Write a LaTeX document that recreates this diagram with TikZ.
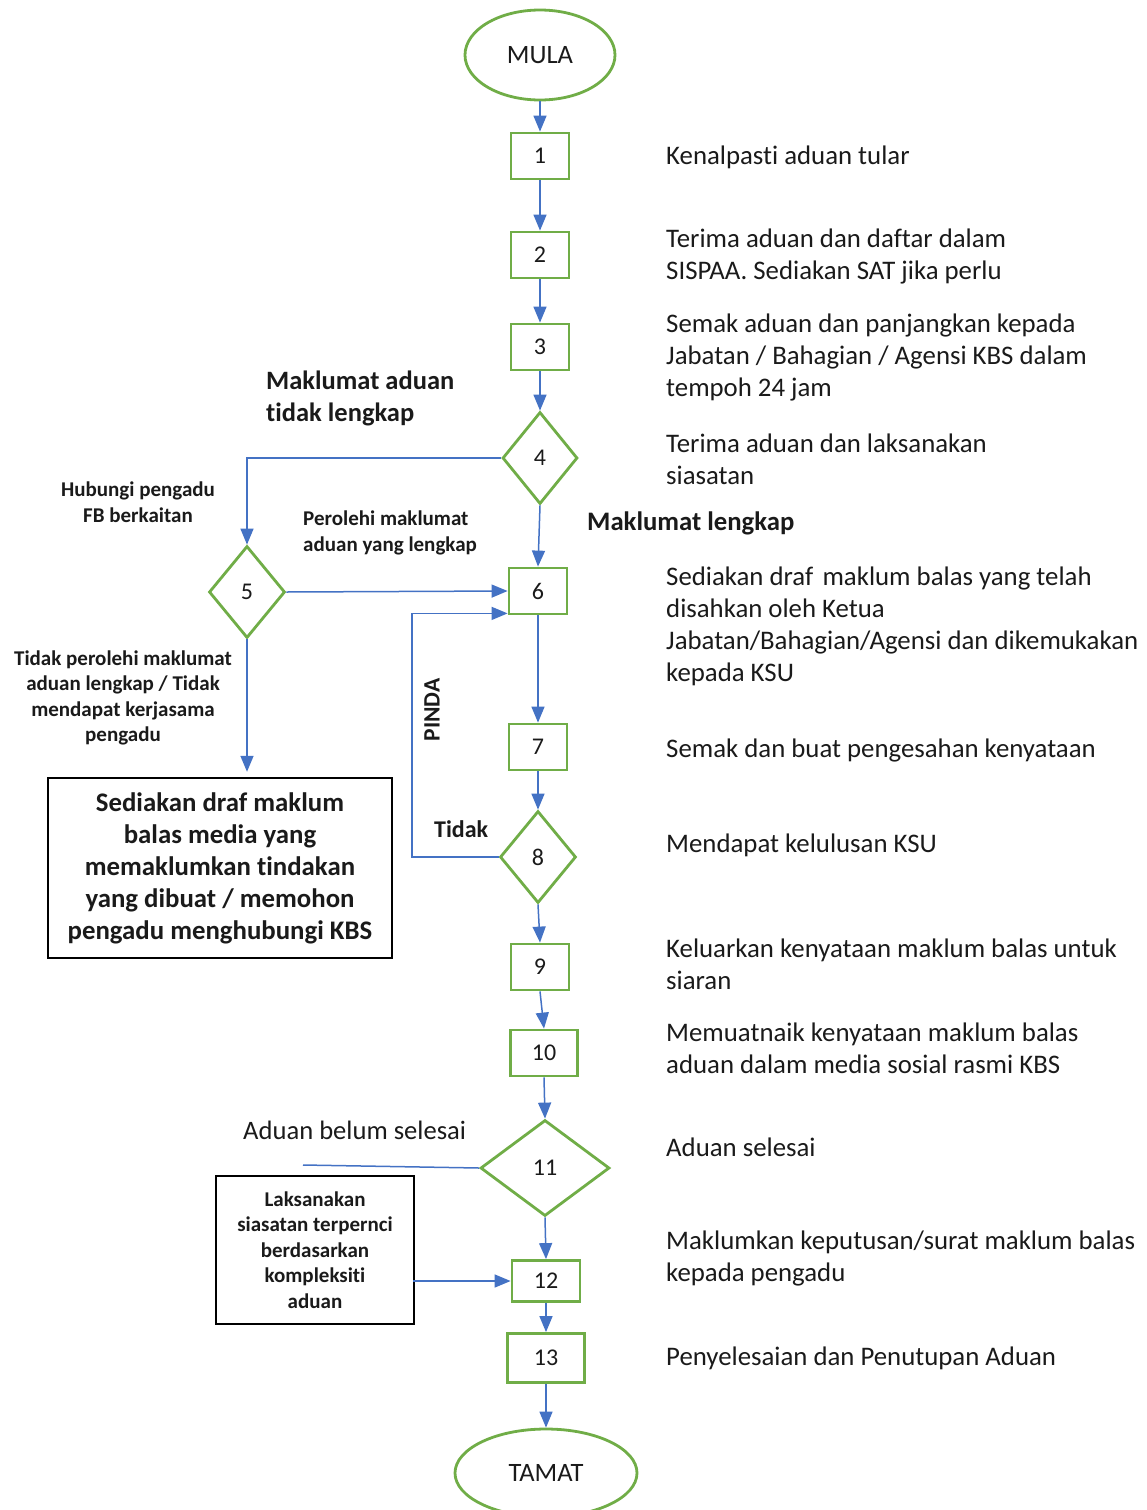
\documentclass[tikz,border=0pt]{standalone}
\usepackage{fontspec}
\setmainfont{Carlito}[Ligatures=NoCommon]
\usetikzlibrary{shapes.geometric,arrows.meta}
\definecolor{boxgreen}{HTML}{70AD47}
\definecolor{linkblue}{HTML}{4472C4}
\definecolor{ink}{HTML}{1A1A1A}
\begin{document}
\begin{tikzpicture}[x=1pt,y=-1pt,
  every node/.style={text=ink},
  stepbox/.style={draw=boxgreen,line width=2.8pt,rectangle,inner sep=0pt,
    minimum width=58pt,minimum height=46pt,font=\fontsize{24}{28}\selectfont},
  decision/.style={draw=boxgreen,line width=2.8pt,diamond,inner sep=0pt,
    minimum width=76pt,minimum height=92pt,font=\fontsize{24}{28}\selectfont},
  terminal/.style={draw=boxgreen,line width=2.8pt,ellipse,inner sep=0pt,
    font=\fontsize{26.5}{30}\selectfont},
  blackbox/.style={draw=black,line width=2.4pt,rectangle,inner sep=0pt,align=center},
  desc/.style={anchor=west,align=left,inner sep=0pt,font=\fontsize{26.8}{32}\selectfont},
  note/.style={align=center,inner sep=0pt,font=\bfseries\fontsize{21}{25.5}\selectfont},
  arr/.style={draw=linkblue,line width=1.5pt,-{Triangle[length=16pt,width=13pt]}},
  link/.style={draw=linkblue,line width=1.5pt}]
\useasboundingbox (0,0) rectangle (1147,1510);

% main column
\node[terminal,minimum width=150pt,minimum height=90pt] (m) at (540,55) {MULA};
\node[stepbox] (b1) at (540,156) {1};
\node[stepbox] (b2) at (540,255) {2};
\node[stepbox] (b3) at (540,347) {3};
\node[decision,minimum width=75pt] (d4) at (540,458) {4};
\node[stepbox] (b6) at (538,591) {6};
\node[decision] (d5) at (247,592) {5};
\node[stepbox] (b7) at (538,747) {7};
\node[decision] (d8) at (538,857) {8};
\node[stepbox] (b9) at (540,967) {9};
\node[stepbox,minimum width=67pt] (b10) at (544,1053) {10};
\node[decision,minimum width=129pt,minimum height=96pt] (d11) at (545,1168) {11};
\node[stepbox,minimum width=68pt,minimum height=41pt] (b12) at (546,1281) {12};
\node[stepbox,minimum width=77pt,minimum height=49pt] (b13) at (546,1358) {13};
\node[terminal,minimum width=182pt,minimum height=88pt] (t) at (546,1473) {TAMAT};

% side boxes
\node[blackbox,minimum width=344pt,minimum height=180pt,
  font=\bfseries\fontsize{26.8}{32}\selectfont] (bb) at (220,868)
  {Sediakan draf maklum\\balas media yang\\memaklumkan tindakan\\yang dibuat / memohon\\pengadu menghubungi KBS};
\node[blackbox,minimum width=198pt,minimum height=148pt,
  font=\bfseries\fontsize{21}{25.5}\selectfont] (sb) at (315,1250)
  {Laksanakan\\siasatan terpernci\\berdasarkan\\kompleksiti\\aduan};

% connectors
\draw[arr] (m) -- (b1);
\draw[arr] (b1) -- (b2);
\draw[arr] (b2) -- (b3);
\draw[arr] (b3) -- (d4);
\draw[arr] (d4.south) -- (b6.north);
\draw[arr] (d4.west) -| (d5.north);
\draw[arr] (d5.east) -- (b6.west);
\draw[arr] (d5.south) -- ([yshift=5pt]d5.south |- bb.north);
\draw[arr] (b6) -- (b7);
\draw[arr] (b7) -- (d8);
\coordinate (c8) at (412,857);
\draw[arr] (d8.west) -- (c8) |- ([yshift=2pt]b6.south west);
\draw[arr] (d8.south) -- (b9.north);
\draw[arr] (b9.south) -- (b10.north);
\draw[arr] (b10.south) -- (d11.north);
\draw[arr] (d11.south) -- (b12.north);
\draw[arr] (b12) -- (b13);
\draw[arr] (b13) -- (t);
\coordinate (e11) at (303,1165);
\draw[link] (d11.west) -- (e11);
\draw[arr] ([xshift=-2pt]b12.west -| sb.east) -- (b12.west);

% branch labels
\node[anchor=west,align=left,inner sep=0pt,font=\bfseries\fontsize{26.5}{32}\selectfont]
  (lna) at (266,398) {Maklumat aduan\\tidak lengkap};
\node[note] (lhub) at (138,502) {Hubungi pengadu\\FB berkaitan};
\node[note,anchor=west,align=left] (lper) at (303,533) {Perolehi maklumat\\aduan yang lengkap};
\node[anchor=west,inner sep=0pt,font=\bfseries\fontsize{26.7}{32}\selectfont]
  (lml) at (587,523) {Maklumat lengkap};
\node[note] (ltp) at (123,698) {Tidak perolehi maklumat\\aduan lengkap / Tidak\\mendapat kerjasama\\pengadu};
\node[rotate=90,inner sep=0pt,font=\bfseries\fontsize{23.5}{28}\selectfont] (lpi) at (432,710) {PINDA};
\node[anchor=west,inner sep=0pt,font=\bfseries\fontsize{24}{28}\selectfont] (lti) at (434,829) {Tidak};
\node[anchor=west,inner sep=0pt,font=\fontsize{26.6}{32}\selectfont] (lbs) at (243,1130) {Aduan belum selesai};

% step descriptions
\node[desc] (t1) at (666,157) {Kenalpasti aduan tular};
\node[desc] (t2) at (666,256) {Terima aduan dan daftar dalam\\SISPAA. Sediakan SAT jika perlu};
\node[desc] (t3) at (666,357) {Semak aduan dan panjangkan kepada\\Jabatan / Bahagian / Agensi KBS dalam\\tempoh 24 jam};
\node[desc] (t4) at (666,459) {Terima aduan dan laksanakan\\siasatan};
\node[desc] (t6) at (666,626) {Sediakan draf\hspace{0.12em} maklum balas yang telah\\disahkan oleh Ketua\\Jabatan/Bahagian/Agensi dan dikemukakan\\kepada KSU};
\node[desc] (t7) at (666,750) {Semak dan buat pengesahan kenyataan};
\node[desc] (t8) at (666,845) {Mendapat kelulusan KSU};
\node[desc] (t9) at (666,964) {Keluarkan kenyataan maklum balas untuk\\siaran};
\node[desc] (t10) at (666,1048) {Memuatnaik kenyataan maklum balas\\aduan dalam media sosial rasmi KBS};
\node[desc] (t11) at (666,1147) {Aduan selesai};
\node[desc] (t12) at (666,1258) {Maklumkan keputusan/surat maklum balas\\kepada pengadu};
\node[desc] (t13) at (666,1358) {Penyelesaian dan Penutupan Aduan};
\end{tikzpicture}
\end{document}
